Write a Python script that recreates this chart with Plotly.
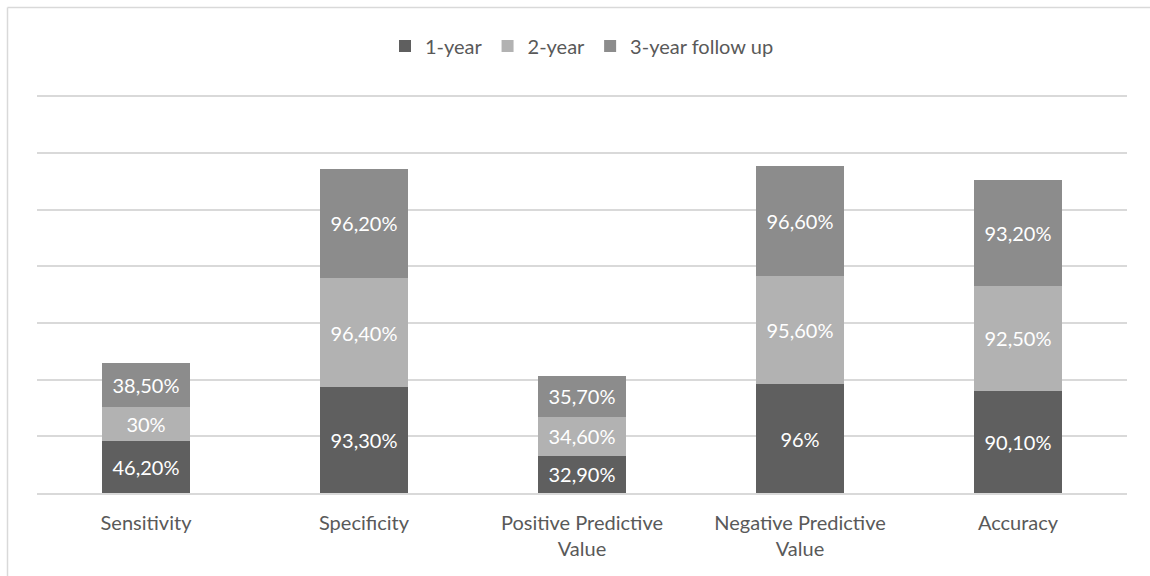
import plotly.graph_objects as go

categories = ["Sensitivity", "Specificity", "Positive Predictive<br>Value",
              "Negative Predictive<br>Value", "Accuracy"]
series_names = ["1-year", "2-year", "3-year follow up"]
one_year = [46.2, 93.3, 32.9, 96.0, 90.1]
two_year = [30.0, 96.4, 34.6, 95.6, 92.5]
three_year = [38.5, 96.2, 35.7, 96.6, 93.2]
colors = ["#5f5f5f", "#b2b2b2", "#8c8c8c"]


def fmt(v):
    if float(v).is_integer():
        return f"{int(v)}%"
    return f"{v:.2f}".replace(".", ",") + "%"


W, H = 1150, 576
L, R, T, B = 37, 23, 85, 83
FONT = "Lato, 'Open Sans', sans-serif"

fig = go.Figure()
for name, vals, col in zip(series_names, [one_year, two_year, three_year], colors):
    fig.add_trace(go.Bar(
        name=name, x=categories, y=vals, marker=dict(color=col, line=dict(width=0)),
        text=[fmt(v) for v in vals], textposition="inside", insidetextanchor="middle",
        textangle=0, textfont=dict(color="white", size=20, family=FONT),
        constraintext="none", hoverinfo="skip",
    ))

pw = W - L - R
ph = H - T - B
x_left = (7.5 - L) / pw
y_top = (H - B - 7.5) / ph

fig.update_layout(
    barmode="stack", bargap=0.6,
    width=W, height=H,
    margin=dict(l=L, r=R, t=T, b=B, pad=0),
    paper_bgcolor="white", plot_bgcolor="white",
    font=dict(family=FONT, size=20, color="#595959"),
    uniformtext=dict(minsize=20, mode="show"),
    legend=dict(orientation="h", x=0.5, xanchor="center", y=(H - B - 46) / ph,
                yanchor="middle", font=dict(size=20, color="#595959"),
                itemwidth=30, traceorder="normal", bgcolor="rgba(0,0,0,0)"),
    xaxis=dict(showgrid=False, showline=True, linecolor="#d9d9d9", linewidth=2,
               ticks="", tickfont=dict(size=20, color="#595959"),
               ticklabelstandoff=11, fixedrange=True),
    yaxis=dict(range=[0, 360], tickvals=[50, 100, 150, 200, 250, 300, 350],
               showgrid=True, gridcolor="#d9d9d9",
               gridwidth=1.5, showticklabels=False, zeroline=False, fixedrange=True),
    shapes=[
        dict(type="line", xref="paper", yref="paper", x0=x_left, x1=(W - L + 5) / pw,
             y0=y_top, y1=y_top, line=dict(color="#d9d9d9", width=1.5)),
        dict(type="line", xref="paper", yref="paper", x0=x_left, x1=x_left,
             y0=y_top, y1=-(B + 5) / ph, line=dict(color="#d9d9d9", width=1.5)),
    ],
)

fig.write_html("out.html")
